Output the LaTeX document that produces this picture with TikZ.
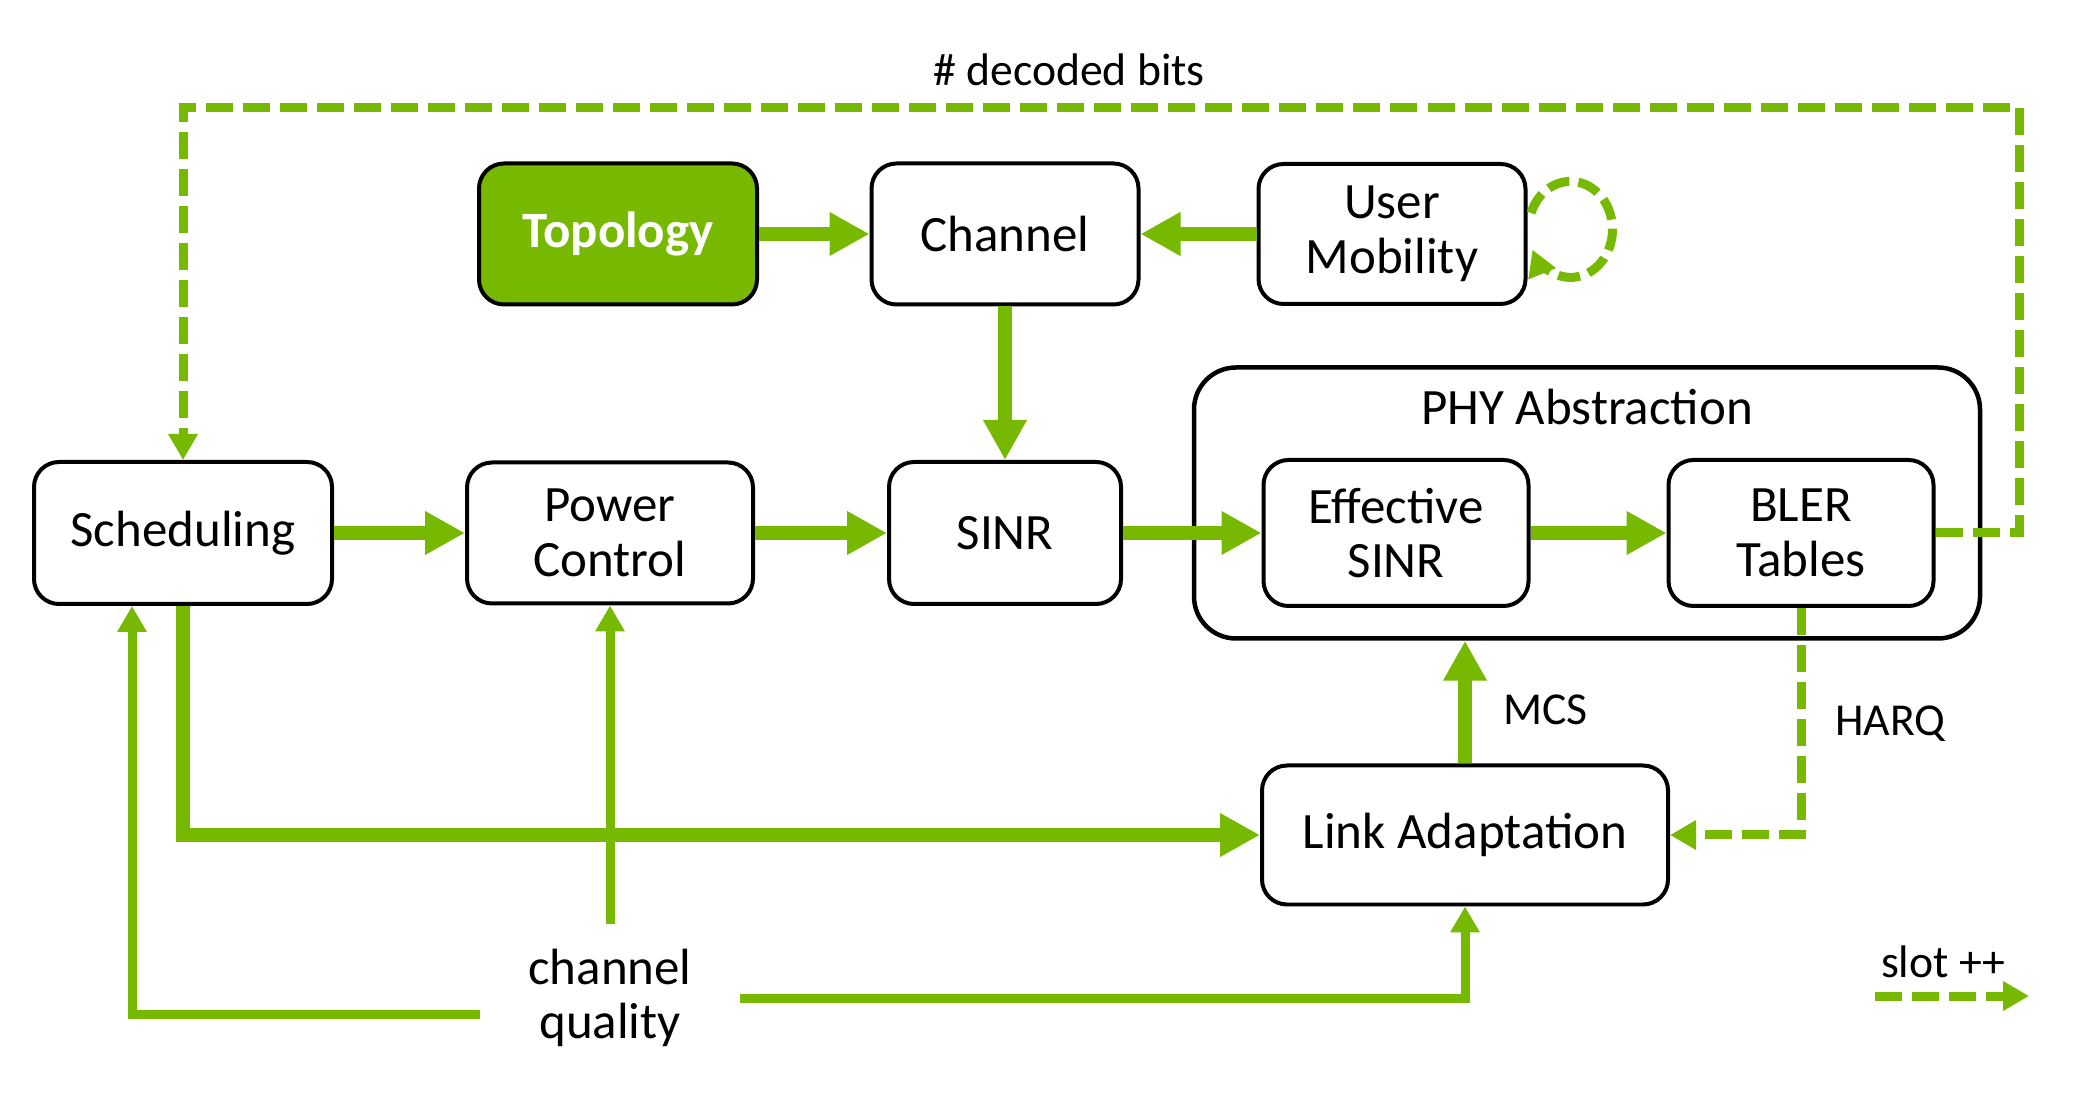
\documentclass[tikz,border=0pt]{standalone}
\usepackage{fontspec}
\setmainfont{Carlito}
\usepackage{tikz}
\usetikzlibrary{arrows.meta}
\definecolor{nvgreen}{HTML}{76B900}
\newcommand{\blockfont}{\fontsize{14.5}{15.5}\selectfont}
\newcommand{\tagfont}{\fontsize{13}{14}\selectfont}

\begin{document}
\begin{tikzpicture}[
    block/.style={draw, line width=0.04cm, rounded corners=0.25cm, align=center,
      inner sep=0pt, font=\blockfont},
    flow/.style={nvgreen, line width=0.14cm, -{Triangle[length=0.4cm,width=0.41cm]}},
    feed/.style={nvgreen, line width=0.09cm, -{Triangle[length=0.26cm,width=0.28cm]}},
    loopback/.style={feed, dash pattern=on 0.27cm off 0.1cm}]
      \useasboundingbox (0, 0) rectangle (20.85, 11);

      \node [block, line width=0.045cm, rounded corners=0.42cm, minimum width=7.86cm,
        minimum height=2.71cm] (phy) at (15.87, 5.97) {};
      \node [font=\blockfont] (phylabel) at (15.87, 6.93) {PHY Abstraction};

      \node [block, fill=nvgreen, text=white, font=\blockfont\bfseries,
        minimum width=2.78cm, minimum height=1.41cm] (topo) at (6.18, 8.66) {Topology};
      \node [block, minimum width=2.67cm, minimum height=1.41cm] (chan) at (10.05, 8.66) {Channel};
      \node [block, minimum width=2.67cm, minimum height=1.40cm] (mob) at (13.92, 8.66) {User\\Mobility};

      \node [block, minimum width=2.98cm, minimum height=1.42cm] (sched) at (1.83, 5.67) {Scheduling};
      \node [block, minimum width=2.86cm, minimum height=1.41cm] (power) at (6.10, 5.67) {Power\\Control};
      \node [block, minimum width=2.32cm, minimum height=1.42cm] (sinr) at (10.05, 5.67) {SINR};
      \node [block, minimum width=2.65cm, minimum height=1.46cm] (eff) at (13.96, 5.67) {Effective\\SINR};
      \node [block, minimum width=2.65cm, minimum height=1.46cm] (bler) at (18.01, 5.67) {BLER\\Tables};

      \node [block, minimum width=4.06cm, minimum height=1.39cm] (link) at (14.65, 2.65) {Link Adaptation};
      \node [align=center, inner sep=0pt, font=\blockfont, minimum width=2.59cm,
        minimum height=1.46cm] (quality) at (6.10, 1.02) {channel\\quality};

      \draw [flow] (topo) -- (chan);
      \draw [flow] (mob) -- (chan);
      \draw [flow] (chan) -- (sinr);
      \draw [flow] (sched) -- (power);
      \draw [flow] (power) -- (sinr);
      \draw [flow] (sinr) -- (eff);
      \draw [flow] (eff) -- (bler);
      \draw [flow] (link.north) -- (link.north |- phy.south);
      \draw [flow, rounded corners=0pt] (sched.south) |- (link.west);

      \draw [feed] ([yshift=-0.16cm]quality.west) -| ([xshift=-0.51cm]sched.south);
      \draw [feed] (quality.north) -- (power.south);
      \draw [feed] (quality.east) -| (link.south);

      \coordinate (turn) at (20.19, 9.92);
      \draw [loopback] (bler.east) -| (turn) -| (sched.north);
      \draw [loopback] (bler.south) |- (link.east);
      \draw [loopback, dash pattern=on 0.22cm off 0.09cm]
        ([shift={(0.035, 0.21)}]mob.east) arc [start angle=160, end angle=-155,
        x radius=0.42, y radius=0.48];

      \node [font=\tagfont] (bits) at (10.69, 10.30) {\# decoded bits};
      \node [font=\tagfont, anchor=west] (mcs) at (14.91, 3.90) {MCS};
      \node [font=\tagfont, anchor=west] (harq) at (18.23, 3.76) {HARQ};

      \coordinate (legA) at (18.75, 1.04);
      \coordinate (legB) at (20.29, 1.04);
      \draw [loopback] (legA) -- (legB);
      \node [font=\tagfont] (slot) at (19.43, 1.38) {slot ++};
    \end{tikzpicture}
\end{document}
